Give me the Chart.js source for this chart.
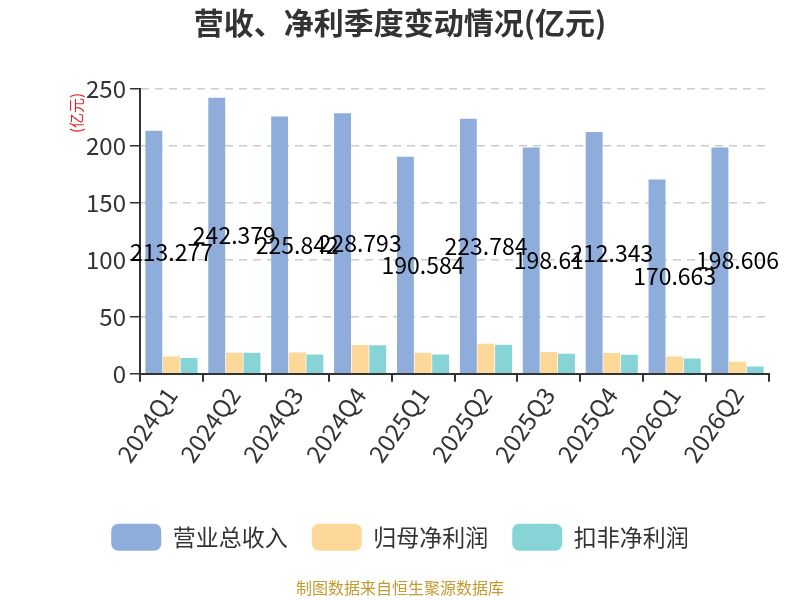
<!DOCTYPE html>
<html>
<head>
<meta charset="utf-8">
<script src="https://cdn.jsdelivr.net/npm/chart.js@4/dist/chart.umd.min.js"></script>
<style>
  html, body { margin: 0; padding: 0; background: #fff; }
  #wrap { width: 800px; height: 600px; }
</style>
</head>
<body>
<div id="wrap"><canvas id="c" width="800" height="600"></canvas></div>
<script>
const categories = ['2024Q1', '2024Q2', '2024Q3', '2024Q4', '2025Q1', '2025Q2', '2025Q3', '2025Q4', '2026Q1', '2026Q2']
const revenue = [213.277, 242.379, 225.842, 228.793, 190.584, 223.784, 198.61, 212.343, 170.663, 198.606]
const netProfit = [15.2, 18.5, 18.8, 25.2, 18.5, 26.4, 19.1, 18.2, 15.2, 10.6]
const deductedProfit = [13.8, 18.5, 17.0, 25.0, 17.0, 25.5, 17.6, 16.7, 13.5, 6.5]
const revenueLabels = ['213.277', '242.379', '225.842', '228.793', '190.584', '223.784', '198.61', '212.343', '170.663', '198.606']
const yTicks = [0, 50, 100, 150, 200, 250]

const FONT = '"Noto Sans CJK SC", "Noto Sans", sans-serif'

// revenue numbers written at half height, centred on each quarter
const valueLabels = {
  id: 'valueLabels',
  afterDatasetsDraw(chart) {
    const ctx = chart.ctx
    const x = chart.scales.x
    const y = chart.scales.y
    ctx.save()
    ctx.font = '23px ' + FONT
    ctx.fillStyle = '#000'
    ctx.textAlign = 'center'
    ctx.textBaseline = 'middle'
    revenue.forEach((v, i) => {
      ctx.fillText(revenueLabels[i], x.getPixelForValue(i), y.getPixelForValue(v / 2))
    })
    ctx.restore()
  }
}

const unitLabel = {
  id: 'unitLabel',
  afterDraw(chart) {
    const ctx = chart.ctx
    ctx.save()
    ctx.translate(chart.chartArea.left - 64, chart.chartArea.top + 24)
    ctx.rotate(-Math.PI / 2)
    ctx.font = '15px ' + FONT
    ctx.fillStyle = '#e3262d'
    ctx.textAlign = 'center'
    ctx.textBaseline = 'middle'
    ctx.fillText('(亿元)', 0, 0)
    ctx.restore()
  }
}

new Chart(document.getElementById('c').getContext('2d'), {
  type: 'bar',
  data: {
    labels: categories,
    datasets: [
      { label: '营业总收入', data: revenue, backgroundColor: '#8eaddb' },
      { label: '归母净利润', data: netProfit, backgroundColor: '#fdd898' },
      { label: '扣非净利润', data: deductedProfit, backgroundColor: '#86d4d6' }
    ]
  },
  options: {
    responsive: false,
    animation: false,
    layout: { padding: { left: 31, right: 31, top: 5, bottom: 2 } },
    datasets: { bar: { categoryPercentage: 0.84, barPercentage: 0.96 } },
    scales: {
      x: {
        afterFit(axis) { axis.height = 126 },
        grid: { display: true, drawOnChartArea: false, offset: true, tickLength: 8, tickColor: '#333', lineWidth: 2 },
        border: { color: '#333', width: 2 },
        ticks: { color: '#333', font: { size: 24, family: FONT }, maxRotation: 55, minRotation: 55, padding: 0 }
      },
      y: {
        min: 0,
        max: 250,
        afterFit(axis) { axis.width = 109 },
        afterBuildTicks(axis) { axis.ticks = yTicks.map(v => ({ value: v })) },
        grid: { color: '#cccccc', lineWidth: 1.5, tickLength: 10, tickColor: '#333', tickBorderDash: [] },
        border: { color: '#333', width: 2, dash: [8, 6] },
        ticks: { color: '#333', font: { size: 24, family: FONT }, padding: 4 }
      }
    },
    plugins: {
      title: {
        display: true,
        text: '营收、净利季度变动情况(亿元)',
        color: '#333',
        font: { size: 30, weight: 'bold', family: FONT },
        padding: { top: 0, bottom: 48 }
      },
      legend: {
        position: 'bottom',
        labels: {
          boxWidth: 50,
          boxHeight: 27,
          useBorderRadius: true,
          borderRadius: 7,
          color: '#333',
          font: { size: 23, family: FONT },
          padding: 24
        }
      },
      subtitle: {
        display: true,
        position: 'bottom',
        text: '制图数据来自恒生聚源数据库',
        color: '#c49a32',
        font: { size: 16, family: FONT },
        padding: { top: 18, bottom: 0 }
      },
      tooltip: { enabled: false }
    }
  },
  plugins: [valueLabels, unitLabel]
})
</script>
</body>
</html>
